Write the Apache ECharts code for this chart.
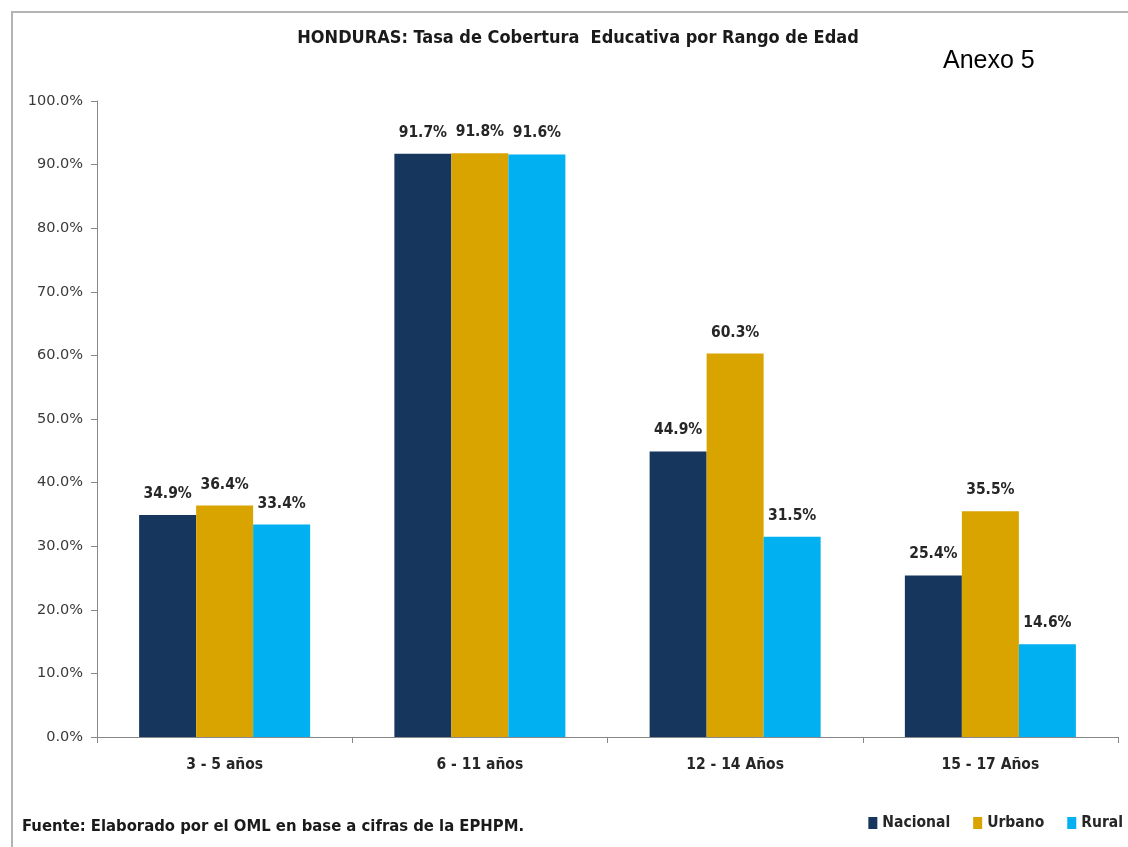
<!DOCTYPE html>
<html>
<head>
<meta charset="utf-8">
<script src="https://cdn.jsdelivr.net/npm/echarts@6/dist/echarts.min.js"></script>
<style>html,body{margin:0;padding:0;background:#fff}#c{width:1128px;height:847px}</style>
</head>
<body>
<div id="c"></div>
<script>
const categories = ['3 - 5 años', '6 - 11 años', '12 - 14 Años', '15 - 17 Años'];
const nacional = [34.9, 91.7, 44.9, 25.4];
const urbano = [36.4, 91.8, 60.3, 35.5];
const rural = [33.4, 91.6, 31.5, 14.6];
const seriesNames = ['Nacional', 'Urbano', 'Rural'];
const yTicks = { min: 0, max: 100, interval: 10 };

const NARROW = '"Liberation Sans Narrow", "DejaVu Sans Condensed", sans-serif';
const colors = ['#17365D', '#D9A300', '#00B0F0'];
const chart = echarts.init(document.getElementById('c'));
const mk = (name, data, i) => ({
  name, type: 'bar', data, barGap: '0%', barCategoryGap: '33%',
  itemStyle: { color: colors[i] },
  label: { show: true, position: 'top', distance: 13, formatter: p => p.value.toFixed(1) + '%',
    fontFamily: NARROW, fontWeight: 'bold', fontSize: 15.5, color: '#262626' }
});
chart.setOption({
  animation: false,
  backgroundColor: '#fff',
  color: colors,
  title: {
    text: 'HONDURAS: Tasa de Cobertura  Educativa por Rango de Edad',
    left: 573, top: 24, textAlign: 'center',
    textStyle: { fontFamily: NARROW, fontWeight: 'bold', fontSize: 18, color: '#1a1a1a' }
  },
  legend: {
    right: 0, top: 810, itemWidth: 9, itemHeight: 12, itemGap: 23,
    icon: 'rect',
    textStyle: { fontFamily: NARROW, fontWeight: 'bold', fontSize: 15.5, color: '#262626' },
    data: seriesNames
  },
  grid: { left: 97, right: 10, top: 101, bottom: 110, containLabel: false },
  xAxis: {
    type: 'category', data: categories,
    axisLine: { lineStyle: { color: '#888', width: 1 } },
    axisTick: { show: true, length: 6, lineStyle: { color: '#888' } },
    axisLabel: { margin: 20, fontFamily: NARROW, fontWeight: 'bold', fontSize: 15.5, color: '#262626' }
  },
  yAxis: {
    type: 'value', min: yTicks.min, max: yTicks.max, interval: yTicks.interval,
    axisLine: { show: true, lineStyle: { color: '#888' } },
    axisTick: { show: true, length: 6, lineStyle: { color: '#888' } },
    splitLine: { show: false },
    axisLabel: { margin: 14, formatter: v => v.toFixed(1) + '%', fontFamily: 'DejaVu Sans', fontSize: 14.5, color: '#3a3a3a' }
  },
  graphic: [
    { type: 'polyline', shape: { points: [[12, 847], [12, 12], [1128, 12]] }, style: { stroke: '#b4b4b4', lineWidth: 2, fill: null } },
    { type: 'text', left: 943, top: 49, style: { text: 'Anexo 5', fontFamily: '"Liberation Sans"', fontSize: 25, fill: '#000' } },
    { type: 'text', left: 22, top: 818, style: { text: 'Fuente: Elaborado por el OML en base a cifras de la EPHPM.', fontFamily: NARROW, fontWeight: 'bold', fontSize: 16.5, fill: '#1a1a1a' } }
  ],
  series: [mk(seriesNames[0], nacional, 0), mk(seriesNames[1], urbano, 1), mk(seriesNames[2], rural, 2)]
});
</script>
</body>
</html>
